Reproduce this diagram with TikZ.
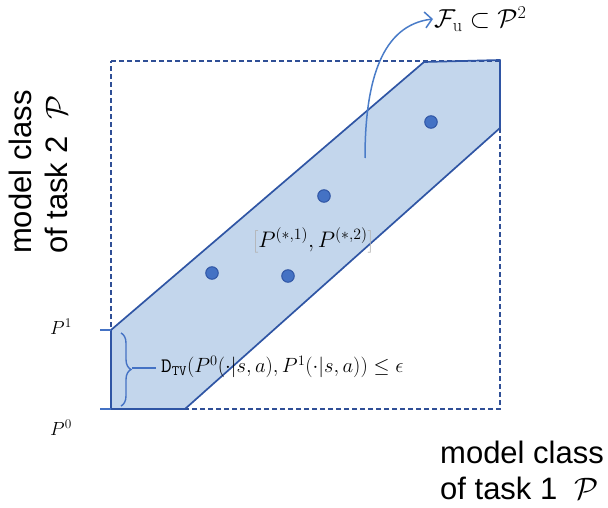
\RequirePackage{fix-cm}
\documentclass[tikz,border=0pt]{standalone}
\usepackage[no-math]{fontspec}
\setmainfont{Liberation Sans}
\usetikzlibrary{arrows.meta,decorations.pathreplacing}
\definecolor{bandfill}{HTML}{C3D6EC}
\definecolor{bandedge}{HTML}{2F55A4}
\definecolor{dashcol}{HTML}{2F4F96}
\definecolor{dotfill}{HTML}{4472C4}
\definecolor{arrowcol}{HTML}{4A7CC8}
\tikzset{
  dotnode/.style={circle,fill=dotfill,draw=bandedge,line width=1pt,minimum size=12.5pt,inner sep=0pt},
  dashline/.style={draw=dashcol,dashed,dash pattern=on 5pt off 3pt,line width=1.3pt},
  edgeline/.style={draw=bandedge,line width=1.7pt},
  biglabel/.style={font=\fontsize{31}{36}\selectfont,align=left,inner sep=0pt},
  mathlabel/.style={inner sep=1pt},
}
\begin{document}
\begin{tikzpicture}[x=1pt,y=-1pt]
\useasboundingbox (0,0) rectangle (608,508);
% corners
\coordinate (tl) at (111,61);
\coordinate (tr) at (500,61);
\coordinate (br) at (500,409);
\coordinate (bl) at (111,409);
\coordinate (a1) at (111,330);
\coordinate (a2) at (424,62);
\coordinate (a3) at (500,60);
\coordinate (a4) at (500,128);
\coordinate (a5) at (185,409);
% band
\fill[bandfill] (a1) -- (a2) -- (a3) -- (a4) -- (a5) -- (bl) -- cycle;
% dashed box
\draw[dashline] (tl) -- (tr) -- (br) -- (bl) -- cycle;
% band edges
\draw[edgeline,line join=round] (a1) -- (a2) -- (a3) -- (a4) -- (a5) -- (bl) -- cycle;
% ticks
\coordinate (t1) at (100,330);
\coordinate (t0) at (100,409);
\draw[draw=dotfill,line width=1.2pt] (t1) -- (a1);
\draw[draw=dotfill,line width=1.2pt] (t0) -- (bl);
\node[mathlabel] (p1) at (61,327) {\fontsize{19}{22}\selectfont$P^1$};
\node[mathlabel] (p0) at (61,428) {\fontsize{19}{22}\selectfont$P^0$};
% brace
\coordinate (b1) at (121,333);
\coordinate (b2) at (121,406);
\draw[draw=dotfill,line width=1.4pt,decorate,decoration={brace,amplitude=10pt}] (b1) -- (b2);
\coordinate (bt) at (132,368);
\node[mathlabel,anchor=west] (dtv) at (160,367) {\fontsize{20.6}{23}\selectfont$\mathtt{D}_{\mathtt{TV}}(P^0(\cdot|s,a),P^1(\cdot|s,a))\leq\epsilon$};
\draw[draw=dotfill,line width=1.8pt] (bt) -- (156,368);
% dots
\node[dotnode] (d1) at (431,122) {};
\node[dotnode] (d2) at (324,196) {};
\node[dotnode] (d3) at (212,273) {};
\node[dotnode] (d4) at (288,276) {};
% pair label
\node[mathlabel] (pair) at (313,240) {\fontsize{22.5}{26}\selectfont$\color{gray!60}[\color{black}P^{(*,1)},P^{(*,2)}\color{gray!60}]$};
% arrow
\coordinate (as) at (365,158);
\node[mathlabel,anchor=west] (fu) at (433,19) {\fontsize{26}{29}\selectfont$\mathcal{F}_{\mathrm{u}}\subset\mathcal{P}^2$};
\draw[draw=arrowcol,line width=1.5pt,-{Straight Barb[length=7pt,width=16pt,line width=1.5pt]}] (as) .. controls (365,80) and (382,25) .. (fu.west);
% big labels
\node[biglabel,rotate=90] (ylab) at (38,172) {model class\\of task 2 \ $\mathcal{P}$};
\node[biglabel,anchor=west] (xlab) at (440,470) {model class\\of task 1 \ $\mathcal{P}$};
\end{tikzpicture}
\end{document}
